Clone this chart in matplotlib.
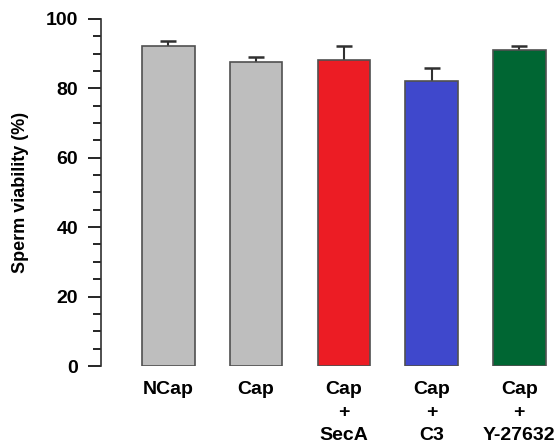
import numpy as np
import matplotlib.pyplot as plt
from matplotlib.ticker import MultipleLocator

labels = ['NCap', 'Cap', 'Cap\n+\nSecA', 'Cap\n+\nC3', 'Cap\n+\nY-27632']
viability = [92.2, 87.5, 88.0, 82.2, 91.1]
errors = [1.5, 1.6, 4.2, 3.6, 1.1]
colors = ['#bebebe', '#bebebe', '#ec1c24', '#3f48cc', '#006633']

plt.rcParams['font.family'] = ['Liberation Sans', 'DejaVu Sans']
plt.rcParams['font.weight'] = 'bold'

fig = plt.figure(figsize=(5.6, 4.48), dpi=100)
ax = fig.add_axes([0.18, 0.183, 0.81, 0.775])

x = np.arange(len(labels))
# upper error bars only, caps only at the top
ax.errorbar(x, viability, yerr=[np.zeros(len(errors)), errors], fmt='none',
            ecolor='#303030', elinewidth=1.5, capsize=0, zorder=1)
tops = np.array(viability) + np.array(errors)
ax.plot(x, tops, linestyle='none', marker='_', markersize=11,
        markeredgewidth=1.8, color='#303030', zorder=1)
ax.bar(x, viability, width=0.6, color=colors, edgecolor='#505050', linewidth=1.2,
       zorder=2)

ax.set_xlim(-0.77, 4.4)
ax.set_ylim(0, 100)
ax.yaxis.set_major_locator(MultipleLocator(20))
ax.yaxis.set_minor_locator(MultipleLocator(5))
ax.tick_params(axis='y', which='major', length=9.5, width=1.2, labelsize=14, pad=7)
ax.tick_params(axis='y', which='minor', length=6, width=1.2)
ax.tick_params(axis='x', length=0, labelsize=14, pad=11)
ax.set_xticks(x)
ax.set_xticklabels(labels, fontweight='bold', linespacing=1.45)
for t in ax.get_yticklabels():
    t.set_fontweight('bold')

for s in ['top', 'right', 'bottom']:
    ax.spines[s].set_visible(False)
ax.spines['left'].set_linewidth(1.2)
ax.spines['left'].set_color('#303030')

ax.set_ylabel('Sperm viability (%)', fontsize=13, fontweight='bold', labelpad=12)

fig.savefig('out.png', dpi=100)
